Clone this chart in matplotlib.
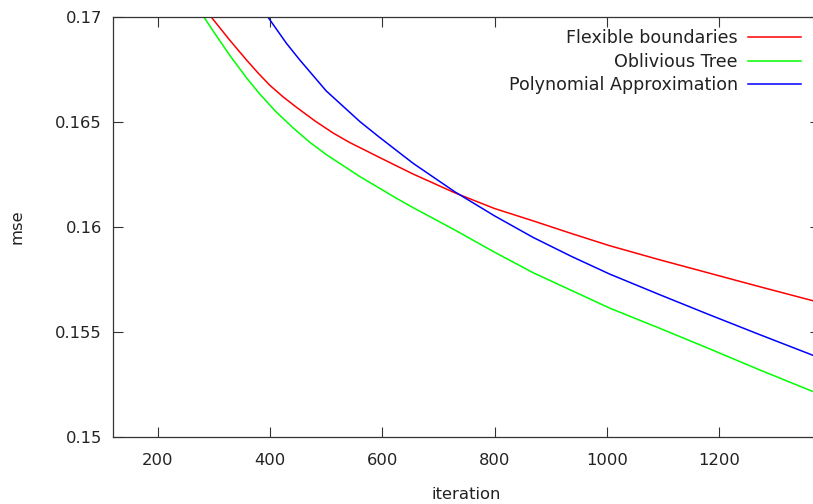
import numpy as np
import matplotlib.pyplot as plt

# values
flex_iter = [285, 295, 328, 358, 378, 399, 423, 447, 480, 512, 542, 572, 595,
             655, 729, 800, 869, 937, 1005, 1094, 1183, 1272, 1380]
flex_mse = [0.17033, 0.1700, 0.1689, 0.16795, 0.16735, 0.16676, 0.16620, 0.16570,
            0.16505, 0.16448, 0.16402, 0.16362, 0.16331, 0.16252, 0.16163, 0.16088,
            0.16029, 0.15969, 0.15911, 0.15844, 0.15780, 0.15716, 0.15640]

obl_iter = [272, 282, 298, 328, 358, 381, 410, 441, 470, 500, 560, 625, 655, 729,
            800, 869, 937, 1005, 1094, 1183, 1272, 1380]
obl_mse = [0.1704, 0.1700, 0.16935, 0.16818, 0.16710, 0.16635, 0.16550, 0.16472,
           0.16405, 0.16345, 0.16240, 0.16137, 0.16092, 0.15986, 0.15880, 0.15782,
           0.15698, 0.15614, 0.15518, 0.15420, 0.15320, 0.15203]

poly_iter = [390, 396, 429, 453, 500, 560, 595, 655, 729, 800, 869, 937, 1005,
             1094, 1183, 1272, 1380]
poly_mse = [0.17023, 0.1700, 0.16875, 0.16795, 0.16648, 0.16502, 0.16427, 0.16303,
            0.16168, 0.16053, 0.15950, 0.15860, 0.15776, 0.15678, 0.15582, 0.15488,
            0.15376]

xticks = [200, 400, 600, 800, 1000, 1200]
yticks = [0.15, 0.155, 0.16, 0.165, 0.17]
ytick_labels = ['0.15', '0.155', '0.16', '0.165', '0.17']

plt.rcParams['font.family'] = 'DejaVu Sans'
fig = plt.figure(figsize=(8.13, 5.04), dpi=100)
ax = fig.add_axes([113 / 813, 1 - 437 / 504, (820 - 113) / 813, (437 - 17) / 504])

ax.plot(flex_iter, flex_mse, color='#ff0000', linewidth=1.1, label='Flexible boundaries')
ax.plot(obl_iter, obl_mse, color='#00ff00', linewidth=1.1, label='Oblivious Tree')
ax.plot(poly_iter, poly_mse, color='#0000ff', linewidth=1.1, label='Polynomial Approximation')

ax.set_xlim(120, 1380)
ax.set_ylim(0.15, 0.17)
ax.set_xticks(xticks)
ax.set_yticks(yticks)
ax.set_yticklabels(ytick_labels)

for s in ax.spines.values():
    s.set_color('#333333')
    s.set_linewidth(0.9)
ax.tick_params(direction='in', length=7, width=0.8, color='#333333',
               top=True, right=True, labelsize=11.8, labelcolor='#222222')
ax.tick_params(axis='x', pad=11.5)
ax.tick_params(axis='y', pad=8)

ax.set_xlabel('iteration', fontsize=11.8, color='#222222', labelpad=14)
ax.set_ylabel('mse', fontsize=11.8, color='#222222', labelpad=22)

ax.legend(loc='upper right', bbox_to_anchor=(806 / 820 * 1.0, 0.987), frameon=False,
          markerfirst=False, fontsize=12.6, handlelength=3.0, handletextpad=0.6,
          labelspacing=0.3, borderaxespad=0.0, labelcolor='#222222')

fig.savefig('out.png', dpi=100)
